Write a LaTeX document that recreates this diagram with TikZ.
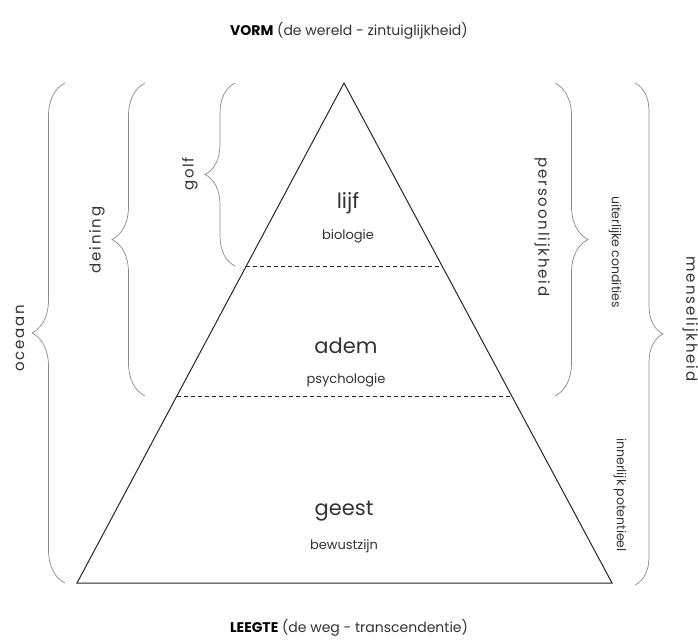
\documentclass[tikz,border=0pt]{standalone}
\usepackage{fontspec}
\setmainfont{Poppins}
\newfontfamily\widefont{Poppins}[LetterSpace=12]
\usetikzlibrary{calc, decorations.pathreplacing}

\definecolor{inkgray}{HTML}{333333}
\definecolor{bracegray}{HTML}{8A8A8A}

\begin{document}
\begin{tikzpicture}[x=1pt, y=-1pt]
    \tikzset{curly/.style={draw=bracegray, line width=0.7pt, decorate,
                 decoration={brace, amplitude=#1}},
             layer/.style={font=\fontsize{21}{24}\selectfont, text=inkgray},
             sublayer/.style={font=\fontsize{13}{15}\selectfont, text=inkgray},
             sidelabel/.style={font=\widefont\fontsize{15}{17}\selectfont, text=inkgray},
             smalllabel/.style={font=\fontsize{12.5}{14}\selectfont, text=inkgray}};

    \useasboundingbox (0, 0) rectangle (698, 641);

    % Pyramid
    \path (344, 83) coordinate (top);
    \path (77, 583) coordinate (bl);
    \path (612, 583) coordinate (br);
    \draw[line width=1pt, black!85] (top) -- (bl) -- (br) -- cycle;

    % Layer borders
    \path ($(top)!0.366!(bl)$) coordinate (b1l);
    \path ($(top)!0.366!(br)$) coordinate (b1r);
    \path ($(top)!0.626!(bl)$) coordinate (b2l);
    \path ($(top)!0.626!(br)$) coordinate (b2r);
    \foreach \i in {1, 2} { \draw[dash pattern=on 4pt off 3pt, line width=0.8pt, black!85] (b\i l) -- (b\i r); }

    % Layers
    \node[layer] (lijf) at (348, 203) {lijf};
    \node[sublayer] (biologie) at (348, 236) {biologie};
    \node[layer] (adem) at (346, 346) {adem};
    \node[sublayer] (psychologie) at (346, 380) {psychologie};
    \node[layer] (geest) at (344, 511) {geest};
    \node[sublayer] (bewustzijn) at (344, 546) {bewustzijn};

    % Left braces
    \path (65, 583) coordinate (oc1);
    \path (65, 83) coordinate (oc2);
    \path (145, 396) coordinate (de1);
    \path (145, 83) coordinate (de2);
    \path (235, 266) coordinate (go1);
    \path (235, 83) coordinate (go2);
    \draw[curly=33pt] (oc1) -- (oc2);
    \draw[curly=33pt] (de1) -- (de2);
    \draw[curly=30pt] (go1) -- (go2);

    % Right braces
    \path (555, 83) coordinate (pe1);
    \path (555, 396) coordinate (pe2);
    \path (635, 83) coordinate (me1);
    \path (635, 585) coordinate (me2);
    \draw[curly=33pt] (pe1) -- (pe2);
    \draw[curly=28pt] (me1) -- (me2);

    % Side labels
    \node[sidelabel, rotate=90] (oceaan) at (20, 338) {oceaan};
    \node[sidelabel, rotate=90] (deining) at (97, 240) {deining};
    \node[sidelabel, rotate=90] (golf) at (190, 174) {golf};
    \node[sidelabel, rotate=-90] (persoon) at (542, 227) {persoonlijkheid};
    \node[sidelabel, rotate=-90] (mens) at (690, 319) {menselijkheid};
    \node[smalllabel, rotate=-90] (uiterlijk) at (615, 252) {uiterlijke condities};
    \node[smalllabel, rotate=-90] (innerlijk) at (620, 495) {innerlijk potentieel};

    % Titles
    \node[font=\fontsize{14}{16}\selectfont, text=inkgray] (vorm) at (349, 31) {\textbf{\color{black}VORM} (de wereld - zintuiglijkheid)};
    \node[font=\fontsize{14}{16}\selectfont, text=inkgray] (leegte) at (349, 628) {\textbf{\color{black}LEEGTE} (de weg - transcendentie)};
\end{tikzpicture}
\end{document}
